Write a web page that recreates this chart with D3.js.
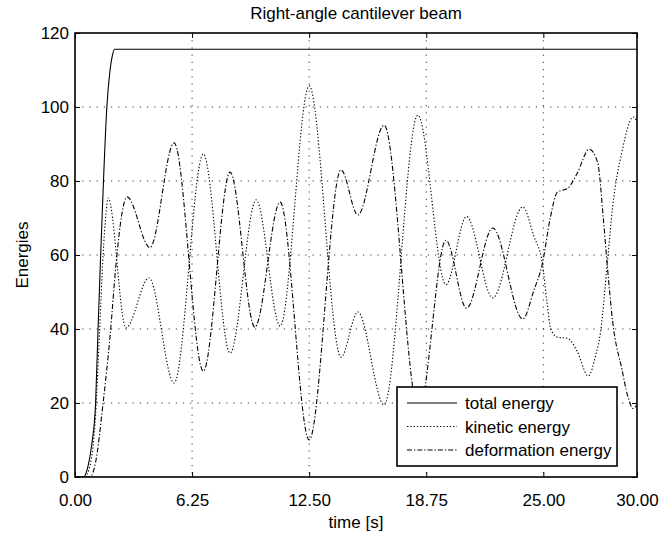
<!DOCTYPE html>
<html>
<head>
<meta charset="utf-8">
<script src="https://cdn.jsdelivr.net/npm/d3@7"></script>
<style>
    body { margin: 0; background: #fff; }
    text { font-family: "Liberation Sans", Arial, sans-serif; fill: #000; }
    .axis path { display: none; }
    .axis line { stroke: #000; }
    .axis text { font-size: 17px; }
    .grid line { stroke: #000; stroke-width: 0.8; stroke-dasharray: 1.2,6; }
    .chart-line { fill: none; stroke: #000; stroke-width: 1.1; }
</style>
</head>
<body>
<svg id="chart"></svg>
<script>
// time stamps [s] and energies
const totalTime    = [0, 0.44, 0.7, 0.9, 1.1, 1.23, 1.37, 1.52, 1.7, 1.85, 2.0, 2.12, 30];
const totalEnergy  = [0, 0, 3, 9, 20, 40, 60, 80, 100, 109, 114, 115.6, 115.6];

const kineticTime   = [0, 0.5, 0.8, 1.1, 1.3, 1.5, 1.65, 1.77, 2.72, 3.95, 5.29, 6.85, 8.28, 9.67, 10.95,
                       12.5, 14.2, 15.1, 16.5, 18.3, 19.8, 20.9, 22.3, 23.9, 24.5, 24.95, 25.2, 25.4, 25.75,
                       26.3, 26.8, 27.4, 27.8, 28.05, 28.4, 28.7, 29.2, 29.8, 30];
const kineticEnergy = [0, 0, 3, 17, 38, 60, 71, 75.4, 40.3, 53.8, 25.4, 87.3, 33.5, 74.9, 40.8,
                       105.7, 32.4, 44.6, 19.5, 97.8, 52, 70.4, 48.4, 73, 65, 57.7, 47, 40, 37.8,
                       37.5, 34, 27.3, 33, 39, 57, 73, 88, 97.3, 96];

const deformTime   = [0, 0.8, 1.1, 1.5, 1.87, 2.2, 2.5, 2.78, 4.0, 5.29, 6.85, 8.28, 9.6, 10.95,
                      12.5, 14.2, 15.1, 16.5, 18.35, 19.8, 20.9, 22.3, 23.9, 24.5, 24.95, 25.37, 25.75,
                      26.3, 26.8, 27.45, 27.9, 28.2, 28.4, 28.7, 29.2, 29.5, 29.8, 30];
const deformEnergy = [0, 0, 4, 20, 38, 58, 71, 75.7, 62, 90.3, 28.6, 82.4, 40.5, 74.3,
                      10, 83, 70.8, 95.1, 18, 64, 45.6, 67.3, 42.7, 50.5, 57.7, 70, 77,
                      78, 82, 88.6, 85, 70, 58, 42, 29, 22, 18.5, 19.5];

const xTicks = [0, 6.25, 12.5, 18.75, 25, 30];
const yTicks = [0, 20, 40, 60, 80, 100, 120];

const series = [
    { label: 'total energy', time: totalTime, values: totalEnergy, dash: null },
    { label: 'kinetic energy', time: kineticTime, values: kineticEnergy, dash: '1.3,2' },
    { label: 'deformation energy', time: deformTime, values: deformEnergy, dash: '5,2,1.3,2' }
];

class EnergyChart {
    constructor(_config, _data) {
        this.config = {
            parentElement: _config.parentElement,
            containerWidth: _config.containerWidth || 672,
            containerHeight: _config.containerHeight || 538,
            margin: { top: 33, right: 35, bottom: 61, left: 75 }
        }
        this.data = _data;
        this.initVis();
    }

    initVis() {
        let vis = this;

        vis.width = vis.config.containerWidth - vis.config.margin.left - vis.config.margin.right;
        vis.height = vis.config.containerHeight - vis.config.margin.top - vis.config.margin.bottom;

        vis.xScale = d3.scaleLinear().domain([0, 30]).range([0, vis.width]);
        vis.yScale = d3.scaleLinear().domain([0, 120]).range([vis.height, 0]);

        vis.svg = d3.select(vis.config.parentElement)
            .attr('width', vis.config.containerWidth)
            .attr('height', vis.config.containerHeight);

        vis.chart = vis.svg.append('g')
            .attr('transform', `translate(${vis.config.margin.left},${vis.config.margin.top})`);

        vis.chart.append('clipPath').attr('id', 'plot-clip')
            .append('rect').attr('width', vis.width).attr('height', vis.height);

        // dotted grid
        vis.chart.append('g').attr('class', 'grid')
            .selectAll('line').data(xTicks.slice(1, -1)).join('line')
            .attr('x1', d => vis.xScale(d)).attr('x2', d => vis.xScale(d))
            .attr('y1', 0).attr('y2', vis.height);
        vis.chart.append('g').attr('class', 'grid')
            .selectAll('line').data(yTicks.slice(1, -1)).join('line')
            .attr('y1', d => vis.yScale(d)).attr('y2', d => vis.yScale(d))
            .attr('x1', 0).attr('x2', vis.width);

        // ticks on all four sides, pointing inward
        vis.chart.append('g').attr('class', 'axis x-axis')
            .attr('transform', `translate(0,${vis.height})`)
            .call(d3.axisBottom(vis.xScale).tickValues(xTicks).tickFormat(d3.format('.2f'))
                .tickSizeInner(-5).tickSizeOuter(0).tickPadding(17));
        vis.chart.append('g').attr('class', 'axis')
            .call(d3.axisTop(vis.xScale).tickValues(xTicks).tickFormat('').tickSizeInner(-5).tickSizeOuter(0));
        vis.chart.append('g').attr('class', 'axis y-axis')
            .call(d3.axisLeft(vis.yScale).tickValues(yTicks).tickSizeInner(-5).tickSizeOuter(0).tickPadding(6));
        vis.chart.append('g').attr('class', 'axis')
            .attr('transform', `translate(${vis.width},0)`)
            .call(d3.axisRight(vis.yScale).tickValues(yTicks).tickFormat('').tickSizeInner(-5).tickSizeOuter(0));

        vis.line = d3.line()
            .x(d => vis.xScale(d.t))
            .y(d => vis.yScale(d.v))
            .curve(d3.curveMonotoneX);

        vis.chart.append('text')
            .attr('x', vis.width / 2).attr('y', -14)
            .attr('text-anchor', 'middle').style('font-size', '17px')
            .text('Right-angle cantilever beam');

        vis.chart.append('text')
            .attr('x', vis.width / 2).attr('y', vis.height + 51)
            .attr('text-anchor', 'middle').style('font-size', '17px')
            .text('time [s]');

        vis.chart.append('text')
            .attr('transform', `translate(-47,${vis.height / 2}) rotate(-90)`)
            .attr('text-anchor', 'middle').style('font-size', '17px')
            .text('Energies');

        vis.renderVis();
    }

    renderVis() {
        let vis = this;

        vis.chart.append('g').attr('clip-path', 'url(#plot-clip)')
            .selectAll('path').data(vis.data).join('path')
            .attr('class', 'chart-line')
            .attr('stroke-dasharray', d => d.dash)
            .attr('d', d => vis.line(d.time.map((t, i) => ({ t: t, v: d.values[i] }))));

        // box around plot area
        vis.chart.append('rect')
            .attr('width', vis.width).attr('height', vis.height)
            .attr('fill', 'none').attr('stroke', '#000').attr('stroke-width', 1.6);

        // legend, lower right
        vis.legend = vis.chart.append('g')
            .attr('transform', `translate(${vis.width - 240},${vis.height - 90})`);

        vis.legend.append('rect')
            .attr('width', 220).attr('height', 79)
            .attr('fill', '#fff').attr('stroke', '#000').attr('stroke-width', 1.6);

        let rows = vis.legend.selectAll('g.row').data(vis.data).join('g')
            .attr('transform', (d, i) => `translate(0,${16 + i * 23.5})`);
        rows.append('line')
            .attr('x1', 10).attr('x2', 60)
            .attr('stroke', '#000').attr('stroke-width', 1)
            .attr('stroke-dasharray', d => d.dash);
        rows.append('text')
            .attr('x', 68).attr('y', 6)
            .style('font-size', '17px')
            .text(d => d.label);
    }
}

new EnergyChart({ parentElement: '#chart' }, series);
</script>
</body>
</html>
